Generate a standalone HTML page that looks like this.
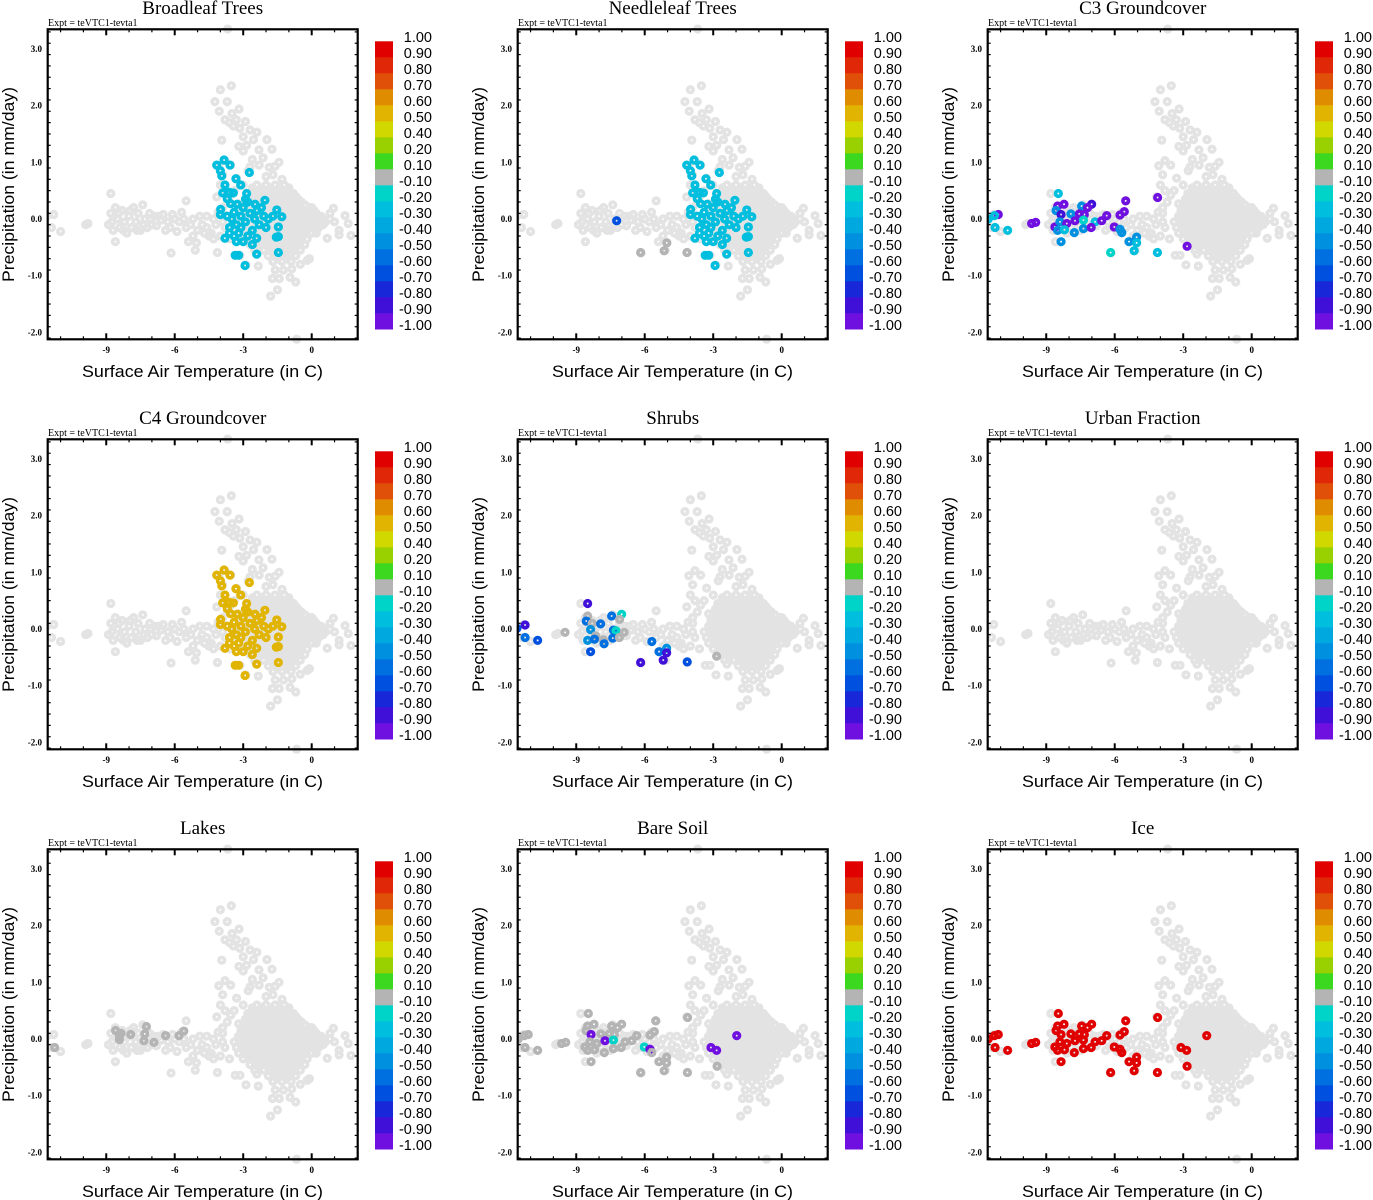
<!DOCTYPE html>
<html><head><meta charset="utf-8">
<style>
html,body{margin:0;padding:0;background:#fff;}
svg{display:block;}
.ttl{font-family:"Liberation Serif",serif;font-size:19px;}
.expt{font-family:"Liberation Serif",serif;font-size:10px;}
.tk{font-family:"Liberation Serif",serif;font-size:9px;font-weight:bold;}
.axt{font-family:"Liberation Sans",sans-serif;font-size:17px;}
.cbl{font-family:"Liberation Sans",sans-serif;font-size:14.5px;}
</style></head>
<body>
<svg id="chart" width="1373" height="1200" xmlns="http://www.w3.org/2000/svg"></svg>
<script>
// ---- data ----
const panelTitles = ["Broadleaf Trees","Needleleaf Trees","C3 Groundcover","C4 Groundcover","Shrubs","Urban Fraction","Lakes","Bare Soil","Ice"];
const xTicks = [-9,-6,-3,0];
const yTicks = [3,2,1,0,-1,-2];
const yTickLabels = ["3.0","2.0","1.0","0.0","-1.0","-2.0"];
const cbLabels = ["1.00","0.90","0.80","0.70","0.60","0.50","0.40","0.20","0.10","-0.10","-0.20","-0.30","-0.40","-0.50","-0.60","-0.70","-0.80","-0.90","-1.00"];
const cbBounds = [1,0.9,0.8,0.7,0.6,0.5,0.4,0.2,0.1,-0.1,-0.2,-0.3,-0.4,-0.5,-0.6,-0.7,-0.8,-0.9,-1];
const cbColors = ["#e00000","#e02808","#e05008","#e08c00","#e0b400","#d0d800","#98d000","#3cd820","#b4b4b4","#00d4c8","#00bede","#00a8e0","#0090e0","#0070e0","#0050e0","#1828d8","#4010d8","#7010e0"];

// background (all land points), [temperature, precipitation]
const bgPoints = [
[-11.6,0.05],[-11.3,0.08],[-11.4,-0.15],[-11.0,-0.22],[-9.9,-0.1],[-9.8,-0.08],
[-8.9,-0.1],[-8.8,0.45],[-8.8,0.1],[-8.7,-0.2],[-8.6,-0.4],[-8.6,0.2],[-8.5,0.0],[-8.4,-0.15],[-8.3,0.15],[-8.2,-0.05],[-8.1,-0.25],[-8.0,0.05],[-7.9,-0.15],[-7.8,0.2],[-7.7,-0.05],[-7.6,0.1],[-7.5,-0.2],[-7.4,0.25],[-7.3,0.0],[-7.2,-0.15],[-7.1,0.1],[-7.0,-0.1],[-6.9,0.05],
[-8.75,-0.05],[-8.45,0.1],[-8.25,-0.2],[-7.95,0.15],[-7.65,-0.2],[-7.35,-0.1],[-7.05,0.0],[-6.8,-0.12],[-6.6,-0.02],[-6.4,-0.2],[-6.1,0.08],[-5.9,-0.22],[-5.6,0.0],[-5.3,-0.1],[-4.9,0.05],[-4.6,-0.15],[-4.3,-0.35],[-4.1,0.12],[-3.9,-0.05],[-5.2,-0.3],
[-6.7,0.05],[-6.5,0.08],[-6.3,-0.05],[-6.2,-0.15],[-6.16,-0.6],[-5.5,0.32],[-6.0,0.0],[-5.8,-0.05],[-5.7,0.12],[-5.5,-0.15],[-5.4,-0.4],[-5.2,0.0],[-5.1,-0.55],[-5.05,-0.42],[-5.0,-0.2],[-4.8,-0.1],[-4.6,0.05],[-4.5,-0.3],[-4.4,-0.25],[-4.2,-0.1],[-4.13,-0.59],[-4.0,-0.3],[-3.8,-0.15],[-3.9,0.1],[-3.6,-0.35],[-4.3,0.0],[-4.7,-0.25],
[-3.68,3.35],[-0.66,-2.12],
[-4.0,2.28],[-3.52,2.35],[-4.24,2.07],[-3.7,2.07],[-4.05,1.9],[-3.49,1.86],[-3.18,1.94],[-3.8,1.75],[-3.6,1.7],[-3.43,1.64],[-3.15,1.6],[-2.9,1.72],[-2.7,1.57],[-2.4,1.53],[-3.0,1.45],[-3.94,1.39],[-1.96,1.4],[-3.19,1.28],[-3.0,1.2],[-2.31,1.22],[-1.74,1.23],[-2.13,1.08],[-1.43,1.0],[-2.6,1.05],[-2.7,0.92],[-2.78,0.85],[-1.86,0.91],[-1.6,0.93],[-1.7,0.78],[-4.07,0.94],[-3.8,1.03],[-3.55,0.95],[-3.9,0.78],[-3.29,0.72],[-3.0,0.6],[-4.0,0.6],[-3.8,0.5],[-4.16,0.39],[-3.55,0.42],[-3.9,0.2],[-3.2,0.27],
[-3.3,1.75],[-2.55,1.4],[-2.85,1.3],[-2.3,0.95],[-2.0,0.75],[-1.3,0.7],[-3.4,0.5],[-3.7,0.3],
[-2.6,0.55],[-2.2,0.55],[-1.8,0.55],[-1.4,0.55],[-1.0,0.55],
[-2.8,0.45],[-2.4,0.45],[-2.0,0.45],[-1.6,0.45],[-1.2,0.45],[-0.8,0.45],
[-2.9,0.35],[-2.5,0.35],[-2.1,0.35],[-1.7,0.35],[-1.3,0.35],[-0.9,0.35],[-0.6,0.35],
[-3.0,0.25],[-2.6,0.25],[-2.2,0.25],[-1.8,0.25],[-1.4,0.25],[-1.0,0.25],[-0.6,0.25],[-0.3,0.25],
[-3.1,0.15],[-2.7,0.15],[-2.3,0.15],[-1.9,0.15],[-1.5,0.15],[-1.1,0.15],[-0.7,0.15],[-0.3,0.15],[0.1,0.15],
[-3.2,0.05],[-2.8,0.05],[-2.4,0.05],[-2.0,0.05],[-1.6,0.05],[-1.2,0.05],[-0.8,0.05],[-0.4,0.05],[0.0,0.05],[0.4,0.05],
[-3.4,-0.05],[-3.0,-0.05],[-2.6,-0.05],[-2.2,-0.05],[-1.8,-0.05],[-1.4,-0.05],[-1.0,-0.05],[-0.6,-0.05],[-0.2,-0.05],[0.2,-0.05],[0.6,-0.05],
[-3.3,-0.15],[-2.9,-0.15],[-2.5,-0.15],[-2.1,-0.15],[-1.7,-0.15],[-1.3,-0.15],[-0.9,-0.15],[-0.5,-0.15],[-0.1,-0.15],[0.3,-0.15],
[-3.2,-0.25],[-2.8,-0.25],[-2.4,-0.25],[-2.0,-0.25],[-1.6,-0.25],[-1.2,-0.25],[-0.8,-0.25],[-0.4,-0.25],[0.0,-0.25],
[-3.0,-0.35],[-2.6,-0.35],[-2.2,-0.35],[-1.8,-0.35],[-1.4,-0.35],[-1.0,-0.35],[-0.6,-0.35],[-0.2,-0.35],
[-2.7,-0.45],[-2.3,-0.45],[-1.9,-0.45],[-1.5,-0.45],[-1.1,-0.45],[-0.7,-0.45],[-0.3,-0.45],
[-2.5,-0.55],[-2.1,-0.55],[-1.7,-0.55],[-1.3,-0.55],[-0.9,-0.55],[-0.5,-0.55],
[-1.9,-0.65],[-1.5,-0.65],[-1.1,-0.65],[-0.7,-0.65],[-1.7,-0.75],[-1.3,-0.75],[-0.9,-0.75],
[-2.4,0.6],[-2.0,0.6],[-1.6,0.6],[-1.2,0.6],[-2.6,0.5],[-2.2,0.5],[-1.8,0.5],[-1.4,0.5],[-1.0,0.5],
[-2.7,0.4],[-2.3,0.4],[-1.9,0.4],[-1.5,0.4],[-1.1,0.4],[-0.7,0.4],
[-2.8,0.3],[-2.4,0.3],[-2.0,0.3],[-1.6,0.3],[-1.2,0.3],[-0.8,0.3],[-0.45,0.3],
[-2.9,0.2],[-2.5,0.2],[-2.1,0.2],[-1.7,0.2],[-1.3,0.2],[-0.9,0.2],[-0.5,0.2],[-0.1,0.2],
[-3.0,0.1],[-2.6,0.1],[-2.2,0.1],[-1.8,0.1],[-1.4,0.1],[-1.0,0.1],[-0.6,0.1],[-0.2,0.1],[0.2,0.1],
[-3.2,0.0],[-2.8,0.0],[-2.4,0.0],[-2.0,0.0],[-1.6,0.0],[-1.2,0.0],[-0.8,0.0],[-0.4,0.0],[0.0,0.0],[0.4,0.0],[0.8,0.0],
[-3.1,-0.1],[-2.7,-0.1],[-2.3,-0.1],[-1.9,-0.1],[-1.5,-0.1],[-1.1,-0.1],[-0.7,-0.1],[-0.3,-0.1],[0.1,-0.1],[0.5,-0.1],
[-3.0,-0.2],[-2.6,-0.2],[-2.2,-0.2],[-1.8,-0.2],[-1.4,-0.2],[-1.0,-0.2],[-0.6,-0.2],[-0.2,-0.2],[0.2,-0.2],
[-2.8,-0.3],[-2.4,-0.3],[-2.0,-0.3],[-1.6,-0.3],[-1.2,-0.3],[-0.8,-0.3],[-0.4,-0.3],
[-2.5,-0.4],[-2.1,-0.4],[-1.7,-0.4],[-1.3,-0.4],[-0.9,-0.4],[-0.5,-0.4],
[-2.3,-0.5],[-1.9,-0.5],[-1.5,-0.5],[-1.1,-0.5],[-0.7,-0.5],
[-1.7,-0.6],[-1.3,-0.6],[-0.9,-0.6],[-1.5,-0.7],[-1.1,-0.7],
[0.95,0.19],[1.46,0.06],[1.6,-0.08],[1.2,-0.2],[1.2,-0.28],[1.72,-0.29],[0.68,-0.34],[0.2,-0.25],[0.5,0.0],[0.1,0.05],[0.0,0.2],[0.8,0.1],[1.0,-0.05],
[-3.14,-0.64],[-3.35,-0.64],[-2.88,-0.81],[-2.34,-0.83],[-1.6,-0.9],[-1.24,-0.9],[-0.87,-0.88],[-1.72,-1.05],[-1.42,-1.05],[-0.95,-1.03],[-0.7,-1.11],[-1.5,-1.25],[-1.8,-1.36],[-0.5,-0.8],[-0.2,-0.73],[-0.1,-0.7],[-2.4,-0.62]
];

// tree / C4 locations
const broadTemp = [-4.16,-3.84,-3.58,-3.94,-4.0,-2.73,-3.32,-3.11,-3.8,-3.9,-3.6,-3.43,-2.85,-3.7,-3.26,-3.55,-3.99,-4.0,-2.48,-2.05,-1.53,-1.31,-1.46,-1.46,-1.55,-1.46,-2.41,-2.92,-3.35,-3.2,-3.8,-3.6,-2.41,-3.5,-3.3,-3.1,-2.9,-2.7,-2.5,-2.3,-2.1,-1.9,-1.7,-3.6,-3.4,-3.2,-3.0,-2.8,-2.6,-2.4,-2.2,-3.0,-2.8,-3.4,-3.7,-2.0,-2.6,-3.3,-3.1,-2.9];
const broadPrecip = [0.95,1.04,0.95,0.76,0.85,0.82,0.71,0.6,0.6,0.46,0.47,0.46,0.45,0.36,0.26,0.27,0.17,0.08,0.26,0.33,0.16,0.04,-0.14,-0.31,-0.32,-0.59,-0.62,-0.82,-0.64,-0.64,-0.34,-0.25,-0.34,0.0,-0.1,0.05,-0.05,0.1,0.0,-0.1,0.05,0.0,0.05,-0.15,-0.3,-0.25,-0.4,-0.3,-0.2,0.15,0.2,0.2,0.3,0.12,0.05,-0.15,-0.45,-0.4,-0.15,0.35];
const broadleafValue = -0.25;
const needleleafValue = -0.25;
const c4Value = 0.55;
const needleExtraTemp = [-7.23,-6.18,-5.15,-5.03,-4.15];
const needleExtraPrecip = [-0.03,-0.59,-0.56,-0.42,-0.59];
const needleExtraValues = [-0.65,0,0,0,0];

// cold-region locations (C3, bare soil, ice)
const lowTemp = [-8.47,-8.5,-8.22,-7.45,-7.01,-7.19,-8.57,-7.92,-7.55,-7.33,-8.35,-11.1,-11.27,-11.54,-11.24,-10.69,-9.64,-9.46,-8.62,-8.4,-8.1,-7.74,-7.37,-6.86,-6.57,-6.35,-5.77,-5.58,-5.52,-4.12,-8.35,-8.5,-8.2,-7.77,-7.37,-7.03,-6.02,-5.77,-5.69,-5.37,-5.04,-5.04,-5.15,-6.18,-4.13,-3.1,-2.85,-2.83,-1.97];
const lowPrecip = [0.45,0.23,0.26,0.23,0.26,0.2,0.15,0.09,0.09,0.08,0.08,0.08,0.06,0.0,-0.15,-0.2,-0.08,-0.06,-0.14,-0.05,-0.08,-0.03,-0.02,-0.05,-0.03,0.06,0.07,0.13,0.32,0.38,-0.4,-0.2,-0.19,-0.24,-0.17,-0.15,-0.14,-0.18,-0.24,-0.4,-0.32,-0.42,-0.56,-0.59,-0.59,-0.15,-0.2,-0.48,0.06];
const c3Values = [-0.25,-0.95,-0.95,-0.45,-0.85,-0.95,-0.45,-0.45,-0.95,-0.95,-0.85,-0.95,-0.25,-0.25,-0.25,-0.25,-0.95,-0.95,-0.95,-0.45,-0.95,-0.95,-0.15,-0.25,-0.95,-0.95,-0.95,-0.95,-0.95,-0.95,-0.45,-0.45,-0.25,-0.45,-0.45,-0.95,-0.95,-0.45,-0.45,-0.45,-0.45,-0.25,-0.25,-0.15,-0.25,null,null,-0.95,null];
const bareValues = [0,0,0,0,0,0,0,0,0,0,-0.95,0,0,0,0,0,0,0,0,0,0,-0.95,-0.15,0,0,0,0,0,0,0,0,0,0,0,0,0,-0.15,-0.95,0,0,0,0,0,0,0,-0.95,-0.95,0,-0.95];
const iceValue = 0.95;

const lakeTemp = [-8.59,-8.35,-8.42,-7.93,-7.24,-7.31,-7.35,-6.91,-6.4,-5.81,-5.6,-11.26,-8.42];
const lakePrecip = [0.15,0.1,0.05,0.08,0.22,0.09,-0.03,-0.06,0.06,0.06,0.14,-0.15,-0.01];
const lakeValue = 0;

const shrubTemp = [-8.5,-11.24,-11.6,-11.24,-10.69,-9.49,-8.5,-8.56,-8.3,-7.93,-8.37,-7.45,-7.01,-7.1,-7.37,-7.26,-6.9,-8.15,-8.5,-8.2,-7.81,-7.78,-7.4,-7.11,-8.37,-5.69,-5.37,-5.04,-5.04,-5.19,-6.18,-4.14,-2.85];
const shrubPrecip = [0.45,0.07,0.01,-0.15,-0.2,-0.06,0.23,0.14,0.1,0.09,-0.01,0.23,0.26,0.17,-0.02,-0.03,-0.06,-0.12,-0.2,-0.18,-0.19,-0.26,-0.16,-0.15,-0.4,-0.22,-0.4,-0.34,-0.42,-0.55,-0.59,-0.58,-0.48];
const shrubValues = [-0.85,-0.85,-0.65,-0.55,-0.65,0,0,-0.55,0,-0.5,-0.4,-0.5,-0.15,0,-0.55,-0.15,0,0,-0.45,-0.55,0,-0.55,-0.5,0,-0.65,-0.55,-0.55,-0.45,-0.85,-0.85,-0.85,-0.65,0];

// ---- geometry ----
const NS = "http://www.w3.org/2000/svg";
const svg = document.getElementById("chart");
const PL = 47.7, PR = 357.7, PT = 29.3, PB = 339.3;
const DOT_R = 2.8, DOT_W = 3.6;
function xScale(t){ return 311.7 + t * 22.83; }
function yScale(p){ return 219 + (0 - p) * 56.7; }
function colorFor(v){
  for (let i = 0; i < cbColors.length; i++) { if (v <= cbBounds[i] && v > cbBounds[i+1]) return cbColors[i]; }
  return v > 0 ? cbColors[0] : cbColors[cbColors.length-1];
}
function mk(tag, attrs, parent){
  const e = document.createElementNS(NS, tag);
  for (const k in attrs) e.setAttribute(k, attrs[k]);
  parent.appendChild(e);
  return e;
}
function slug(s){ return s.toLowerCase().replace(/[^a-z0-9]+/g,'-'); }

function drawPanel(idx, sets){
  const col = idx % 3, row = Math.floor(idx / 3);
  const g = mk("g", {transform: "translate(" + (col*470) + "," + (row*410) + ")"}, svg);
  
  

  const t = mk("text", {x: 202.7, y: 14, "text-anchor": "middle", class: "ttl"}, g);
  t.textContent = panelTitles[idx];
  
  

  const ex = mk("text", {x: 48, y: 26, class: "expt"}, g);
  ex.textContent = "Expt = teVTC1-tevta1";
  
  

  const clip = mk("clipPath", {id: "clip" + idx}, g);
  mk("rect", {x: PL, y: PT-6, width: PR-PL, height: PB-PT+12}, clip);
  const pts = mk("g", {"clip-path": "url(#clip" + idx + ")"}, g);
  
  

  for (const b of bgPoints) {
    const c = mk("circle", {cx: xScale(b[0]), cy: yScale(b[1]), r: DOT_R, fill: "none", stroke: "#e3e3e3", "stroke-width": DOT_W}, pts);
    
    
  }
  for (const s of sets) {
    for (let i = 0; i < s.temp.length; i++) {
      const v = Array.isArray(s.values) ? s.values[i] : s.values;
      if (v === null || v === undefined) continue;
      const c = mk("circle", {cx: xScale(s.temp[i]), cy: yScale(s.precip[i]), r: DOT_R, fill: "none", stroke: colorFor(v), "stroke-width": DOT_W}, pts);
      
      
    }
  }

  const ax = mk("g", {}, g);
  
  
  mk("rect", {x: PL, y: PT, width: PR-PL, height: PB-PT, fill: "none", stroke: "#000", "stroke-width": 2.2}, ax);
  for (let k = -21; k <= 33; k += 2) {
    const p = k / 10; const y = yScale(p);
    if (y < PT+1 || y > PB-1) continue;
    const major = Math.abs(k % 10) === 0;
    const L = major ? 6 : 3;
    mk("line", {x1: PL, x2: PL+L, y1: y, y2: y, stroke: "#000", "stroke-width": major?2:1.2}, ax);
    mk("line", {x1: PR, x2: PR-L, y1: y, y2: y, stroke: "#000", "stroke-width": major?2:1.2}, ax);
  }
  yTicks.forEach((p, i) => {
    const tx = mk("text", {x: 42, y: yScale(p)+3, "text-anchor": "end", class: "tk"}, ax);
    tx.textContent = yTickLabels[i];
    
    
  });
  for (let k = -11; k <= 1; k++) {
    const x = xScale(k);
    const major = (k % 3 === 0);
    const L = major ? 6 : 3;
    mk("line", {x1: x, x2: x, y1: PB, y2: PB-L, stroke: "#000", "stroke-width": major?2:1.2}, ax);
    mk("line", {x1: x, x2: x, y1: PT, y2: PT+L, stroke: "#000", "stroke-width": major?2:1.2}, ax);
  }
  xTicks.forEach(v => {
    const tx = mk("text", {x: xScale(v), y: 353, "text-anchor": "middle", class: "tk"}, ax);
    tx.textContent = String(v);
    
    
  });
  const xt = mk("text", {x: 202.5, y: 377, "text-anchor": "middle", class: "axt", textLength: 241, lengthAdjust: "spacingAndGlyphs"}, g);
  xt.textContent = "Surface Air Temperature (in C)";
  
  
  const yt = mk("text", {x: 0, y: 0, "text-anchor": "middle", class: "axt", textLength: 195, lengthAdjust: "spacingAndGlyphs", transform: "translate(14,184.5) rotate(-90)"}, g);
  yt.textContent = "Precipitation (in mm/day)";
  
  

  const cb = mk("g", {}, g);
  
  
  cbColors.forEach((c, i) => {
    const r = mk("rect", {x: 375, y: 41.3 + i*16, width: 18, height: 16.2, fill: c}, cb);
    
    
  });
  cbLabels.forEach((l, i) => {
    const tx = mk("text", {x: 432, y: 42 + i*16, "text-anchor": "end", class: "cbl"}, cb);
    tx.textContent = l;
    
    
  });
}

drawPanel(0, [{temp: broadTemp, precip: broadPrecip, values: broadleafValue}]);
drawPanel(1, [{temp: needleExtraTemp, precip: needleExtraPrecip, values: needleExtraValues},{temp: broadTemp, precip: broadPrecip, values: needleleafValue}]);
drawPanel(2, [{temp: lowTemp, precip: lowPrecip, values: c3Values}]);
drawPanel(3, [{temp: broadTemp, precip: broadPrecip, values: c4Value}]);
drawPanel(4, [{temp: shrubTemp, precip: shrubPrecip, values: shrubValues}]);
drawPanel(5, []);
drawPanel(6, [{temp: lakeTemp, precip: lakePrecip, values: lakeValue}]);
drawPanel(7, [{temp: lowTemp, precip: lowPrecip, values: bareValues}]);
drawPanel(8, [{temp: lowTemp, precip: lowPrecip, values: iceValue}]);
</script>
</body></html>
